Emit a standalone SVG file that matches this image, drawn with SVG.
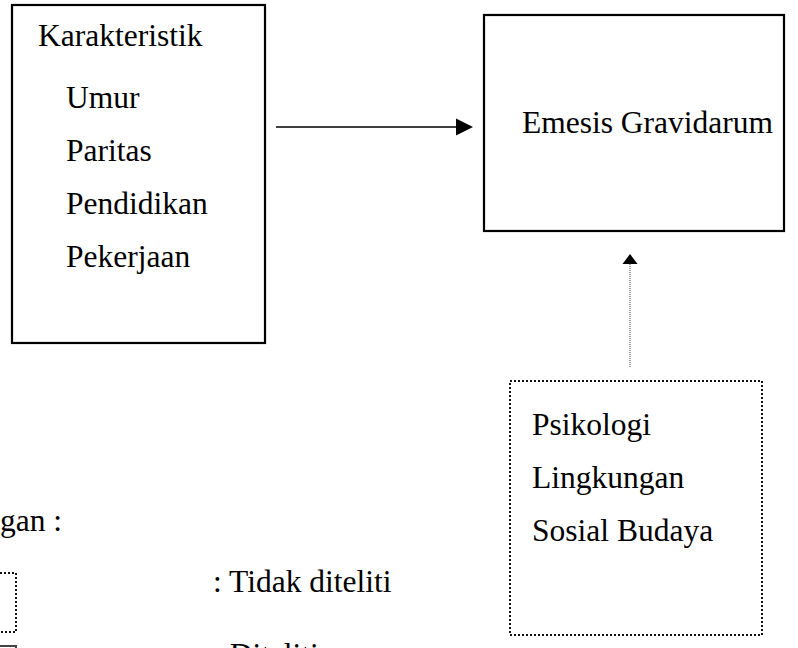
<svg xmlns="http://www.w3.org/2000/svg" width="798" height="648" viewBox="0 0 798 648">
<style>
.t{font-family:"Liberation Serif","Times New Roman",serif;font-size:31.5px;fill:#000}
.solid{fill:none;stroke:#000;stroke-width:2.2}
.dot{fill:none;stroke:#111;stroke-width:2;stroke-dasharray:2 2}
</style>
<rect width="798" height="648" fill="#fff"/>
<g id="karakteristik">
<rect class="solid" x="12" y="5" width="253" height="338"/>
<text class="t" x="38" y="46">Karakteristik</text>
<text class="t" x="66" y="108">Umur</text>
<text class="t" x="66" y="161">Paritas</text>
<text class="t" x="66" y="214">Pendidikan</text>
<text class="t" x="66" y="267">Pekerjaan</text>
</g>
<g id="emesis">
<rect class="solid" x="484" y="15" width="300" height="216"/>
<text class="t" x="522" y="133">Emesis Gravidarum</text>
</g>
<g id="faktor-lain">
<rect class="dot" x="510" y="381" width="252" height="254"/>
<text class="t" x="532" y="435">Psikologi</text>
<text class="t" x="532" y="488">Lingkungan</text>
<text class="t" x="532" y="541">Sosial Budaya</text>
</g>
<g id="connectors">
<line x1="276" y1="127" x2="458" y2="127" stroke="#000" stroke-width="1.3"/>
<polygon points="456,118.5 473,127 456,135.5" fill="#000"/>
<line x1="630" y1="367" x2="630" y2="263" stroke="#555" stroke-width="1.2" stroke-dasharray="1 1"/>
<polygon points="622.5,264 630,254 637.5,264" fill="#000"/>
</g>
<g id="legend">
<text class="t" x="0" y="531">gan :</text>
<rect class="dot" x="-40" y="573" width="56" height="59"/>
<text class="t" x="213" y="592">: Tidak diteliti</text>
<rect x="-40" y="646" width="56" height="40" fill="none" stroke="#444" stroke-width="2"/>
<text class="t" x="213" y="665">: Diteliti</text>
</g>
</svg>
